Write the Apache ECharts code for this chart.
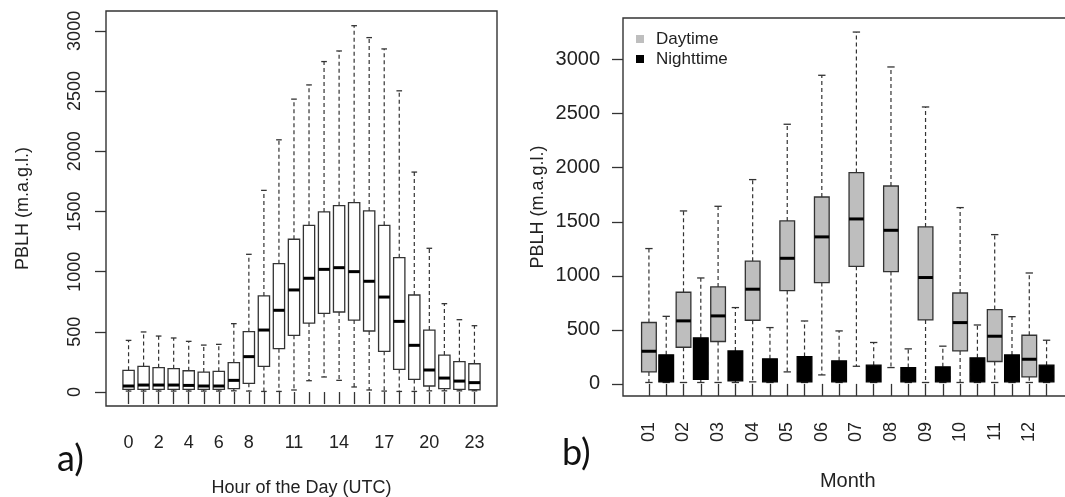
<!DOCTYPE html>
<html>
<head>
<meta charset="utf-8">
<script src="https://cdn.jsdelivr.net/npm/echarts@6/dist/echarts.min.js"></script>
<style>
    html, body { margin: 0; padding: 0; background: #fff; }
    #chart { width: 1065px; height: 497px; }
</style>
</head>
<body>
<div id="chart"></div>
<script>
// panel a) hourly PBLH
var hours = ['0', '1', '2', '3', '4', '5', '6', '7', '8', '9', '10', '11',
    '12', '13', '14', '15', '16', '17', '18', '19', '20', '21', '22', '23'];
var hourLabels = ['0', '2', '4', '6', '8', '11', '14', '17', '20', '23'];
var hourMin = [8, 8, 8, 8, 8, 8, 8, 10, 8, 5, 5, 17, 94, 125, 97, 42, 17, 8, 5, 5, 10, 10, 10, 10];
var hourQ1 = [22, 22, 22, 22, 22, 22, 22, 28, 72, 213, 360, 471, 573, 654, 665, 598, 507, 338, 188, 105, 50, 28, 22, 19];
var hourMed = [50, 58, 58, 58, 55, 50, 50, 97, 294, 515, 679, 848, 945, 1019, 1033, 1000, 920, 789, 587, 388, 183, 116, 91, 78];
var hourQ3 = [180, 213, 202, 194, 177, 166, 172, 244, 501, 798, 1066, 1269, 1385, 1496, 1548, 1573, 1504, 1385, 1116, 806, 515, 307, 252, 235];
var hourMax = [429, 499, 465, 449, 421, 390, 396, 568, 1144, 1675, 2095, 2433, 2551, 2745, 2833, 3043, 2944, 2850, 2502, 1827, 1194, 734, 601, 551];

// panel b) monthly PBLH, daytime / nighttime
var months = ['01', '02', '03', '04', '05', '06', '07', '08', '09', '10', '11', '12'];
var dayMin = [13, 13, 13, 19, 111, 83, 163, 151, 13, 13, 13, 13];
var dayQ1 = [111, 339, 392, 589, 863, 937, 1088, 1039, 592, 305, 207, 65];
var dayMed = [302, 583, 629, 876, 1162, 1360, 1526, 1421, 984, 567, 441, 228];
var dayQ3 = [568, 848, 897, 1135, 1508, 1729, 1955, 1831, 1452, 841, 688, 450];
var dayMax = [1252, 1600, 1643, 1890, 2402, 2855, 3255, 2932, 2562, 1631, 1381, 1026];
var nightMin = [13, 13, 13, 13, 13, 13, 13, 13, 13, 13, 13, 13];
var nightQ1 = [19, 43, 28, 19, 19, 19, 19, 19, 19, 19, 19, 19];
var nightMed = [110, 190, 120, 90, 100, 85, 70, 60, 60, 90, 110, 70];
var nightQ3 = [269, 426, 305, 232, 253, 213, 173, 151, 158, 241, 268, 173];
var nightMax = [625, 980, 706, 521, 582, 490, 383, 324, 349, 545, 622, 404];

var yTicksA = [0, 500, 1000, 1500, 2000, 2500, 3000];
var yTicksB = [0, 500, 1000, 1500, 2000, 2500, 3000];

var FONT = "'Liberation Sans', Arial, sans-serif";

// category slots with an empty slot on each side (R pads the x range)
var hourSlots = ['<'].concat(hours, ['>']);
var monthSlots = ['<'];
months.forEach(function (m) {
    monthSlots.push(m, m + 'N');
});
monthSlots.push('>');

function boxRows(keys, mins, q1s, meds, q3s, maxs) {
    return keys.map(function (k, i) {
        return [k, mins[i], q1s[i], meds[i], q3s[i], maxs[i]];
    });
}

function plain(v) {
    return String(v);
}

// R style boxplot: dashed whiskers, short solid staples, thick median
function boxRenderer(fill, stroke, ratio) {
    return function (params, api) {
        var x = api.value(0);
        var w = api.size([1, 0])[0] * ratio;
        var pMin = api.coord([x, api.value(1)]);
        var pQ1 = api.coord([x, api.value(2)]);
        var pMed = api.coord([x, api.value(3)]);
        var pQ3 = api.coord([x, api.value(4)]);
        var pMax = api.coord([x, api.value(5)]);
        var cx = pMed[0];
        var dash = { stroke: '#333', lineWidth: 1.2, lineDash: [4, 3] };
        var solid = { stroke: '#333', lineWidth: 1.3 };
        return {
            type: 'group',
            children: [
                { type: 'line', shape: { x1: cx, y1: pQ3[1], x2: cx, y2: pMax[1] }, style: dash },
                { type: 'line', shape: { x1: cx, y1: pQ1[1], x2: cx, y2: pMin[1] }, style: dash },
                { type: 'line', shape: { x1: cx - w / 4, y1: pMax[1], x2: cx + w / 4, y2: pMax[1] }, style: solid },
                { type: 'line', shape: { x1: cx - w / 4, y1: pMin[1], x2: cx + w / 4, y2: pMin[1] }, style: solid },
                {
                    type: 'rect',
                    shape: { x: cx - w / 2, y: pQ3[1], width: w, height: pQ1[1] - pQ3[1] },
                    style: { fill: fill, stroke: stroke, lineWidth: 1.3 }
                },
                { type: 'line', shape: { x1: cx - w / 2, y1: pMed[1], x2: cx + w / 2, y2: pMed[1] }, style: { stroke: '#000', lineWidth: 3 } }
            ]
        };
    };
}

var chart = echarts.init(document.getElementById('chart'));

var tickStyle = { color: '#333', width: 1.3 };

var option = {
    animation: false,
    textStyle: { fontFamily: FONT },
    grid: [
        { left: 106, top: 11, width: 391, height: 395, show: true, borderColor: '#333', borderWidth: 1.4, backgroundColor: 'transparent', outerBoundsMode: 'none' },
        { left: 623, top: 18, width: 449.5, height: 378, show: true, borderColor: '#333', borderWidth: 1.4, backgroundColor: 'transparent', outerBoundsMode: 'none' }
    ],
    legend: {
        data: ['Daytime', 'Nighttime'],
        orient: 'vertical',
        left: 636,
        top: 30,
        padding: 0,
        icon: 'rect',
        itemWidth: 8,
        itemHeight: 8,
        itemGap: 2,
        selectedMode: false,
        textStyle: { fontSize: 17, color: '#222', fontFamily: FONT, lineHeight: 18, padding: [0, 0, 0, 7] }
    },
    xAxis: [
        {
            gridIndex: 0,
            type: 'category',
            data: hourSlots,
            axisLine: { show: false },
            axisTick: {
                show: true, alignWithLabel: true, length: 12, lineStyle: tickStyle,
                interval: function (i) { return i > 0 && i < hourSlots.length - 1; }
            },
            axisLabel: {
                fontSize: 18, color: '#222', margin: 28,
                interval: function (i, v) { return hourLabels.indexOf(v) >= 0; }
            },
            name: 'Hour of the Day (UTC)',
            nameLocation: 'middle',
            nameGap: 73,
            nameTextStyle: { fontSize: 18, color: '#222' }
        },
        {
            gridIndex: 1,
            type: 'category',
            data: monthSlots,
            axisLine: { show: false },
            axisTick: {
                show: true, alignWithLabel: true, length: 12, lineStyle: tickStyle,
                interval: function (i) { return i > 0 && i < monthSlots.length - 1; }
            },
            axisLabel: {
                fontSize: 18, color: '#222', margin: 26, rotate: 90,
                interval: function (i, v) { return months.indexOf(v) >= 0; }
            },
            name: 'Month',
            nameLocation: 'middle',
            nameGap: 75,
            nameTextStyle: { fontSize: 20, color: '#222' }
        }
    ],
    yAxis: [
        {
            gridIndex: 0,
            type: 'value',
            min: -116,
            max: 3165,
            axisLine: { show: false },
            splitLine: { show: false },
            axisTick: { show: true, length: 11, lineStyle: tickStyle, customValues: yTicksA },
            axisLabel: { fontSize: 18, color: '#222', rotate: 90, margin: 22, customValues: yTicksA, formatter: plain },
            name: 'PBLH (m.a.g.l.)',
            nameLocation: 'middle',
            nameRotate: 90,
            nameGap: 74,
            nameTextStyle: { fontSize: 18, color: '#222' }
        },
        {
            gridIndex: 1,
            type: 'value',
            min: -112,
            max: 3385,
            axisLine: { show: false },
            splitLine: { show: false },
            axisTick: { show: true, length: 11, lineStyle: tickStyle, customValues: yTicksB },
            axisLabel: { fontSize: 20, color: '#222', margin: 23, customValues: yTicksB, formatter: plain },
            name: 'PBLH (m.a.g.l.)',
            nameLocation: 'middle',
            nameRotate: 90,
            nameGap: 76,
            nameMoveOverlap: false,
            nameTextStyle: { fontSize: 18, color: '#222' }
        }
    ],
    graphic: [
        { type: 'text', left: 57, top: 441, style: { text: 'a)', font: "36px Lato, 'Open Sans', sans-serif", fill: '#111' } },
        { type: 'text', left: 562, top: 435, style: { text: 'b)', font: "36px Lato, 'Open Sans', sans-serif", fill: '#111' } }
    ],
    series: [
        {
            name: 'Hourly',
            type: 'custom',
            xAxisIndex: 0,
            yAxisIndex: 0,
            itemStyle: { color: '#fff' },
            encode: { x: 0, y: [1, 2, 3, 4, 5] },
            renderItem: boxRenderer('#fff', '#333', 0.75),
            data: boxRows(hours, hourMin, hourQ1, hourMed, hourQ3, hourMax)
        },
        {
            name: 'Daytime',
            type: 'custom',
            xAxisIndex: 1,
            yAxisIndex: 1,
            itemStyle: { color: '#bebebe' },
            encode: { x: 0, y: [1, 2, 3, 4, 5] },
            renderItem: boxRenderer('#bebebe', '#333', 0.85),
            data: boxRows(months, dayMin, dayQ1, dayMed, dayQ3, dayMax)
        },
        {
            name: 'Nighttime',
            type: 'custom',
            xAxisIndex: 1,
            yAxisIndex: 1,
            itemStyle: { color: '#000' },
            encode: { x: 0, y: [1, 2, 3, 4, 5] },
            renderItem: boxRenderer('#000', '#000', 0.85),
            data: boxRows(months.map(function (m) { return m + 'N'; }), nightMin, nightQ1, nightMed, nightQ3, nightMax)
        }
    ]
};

chart.setOption(option);
</script>
</body>
</html>
